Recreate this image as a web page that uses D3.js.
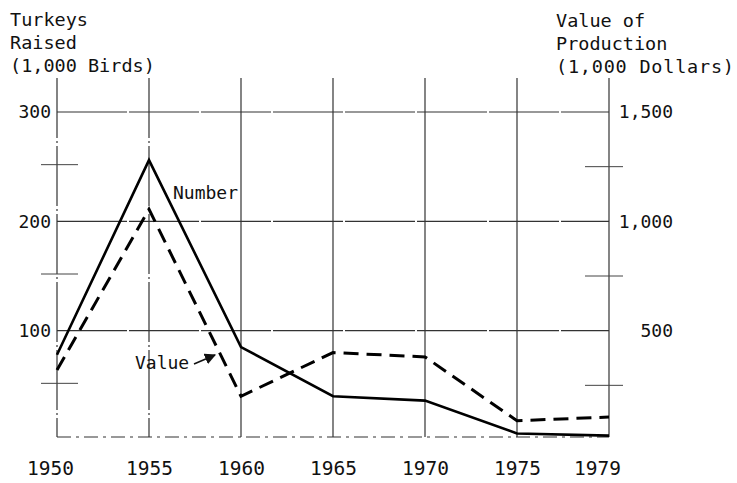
<!DOCTYPE html>
<html>
<head>
<meta charset="utf-8">
<script src="https://cdn.jsdelivr.net/npm/d3@7"></script>
<style>
  body { margin: 0; background: #fff; }
  svg text { font-family: "DejaVu Sans Mono", monospace; fill: #111; }
</style>
</head>
<body>
<svg id="chart" width="737" height="483"></svg>
<script>
// Turkeys raised (1,000 birds) and value of production (1,000 dollars)
var years = ["1950", "1955", "1960", "1965", "1970", "1975", "1979"];
var numberBirds = [78, 256, 85, 40, 36, 6, 4];
var valueDollars = [320, 1055, 200, 400, 380, 88, 105];

var leftTicks = [100, 200, 300];
var leftMinor = [50, 150, 250];
var rightTicks = [500, 1000, 1500];
var rightMinor = [250, 750, 1250];

var X_LEFT = 57, X_RIGHT = 609;
var Y_TOP = 112, Y_BOTTOM = 440;

var svg = d3.select("#chart");

var xScale = d3.scalePoint().domain(years).range([X_LEFT, X_RIGHT]);
var yScale = d3.scaleLinear().domain([0, 300]).range([Y_BOTTOM, Y_TOP]);
var yValue = d3.scaleLinear().domain([0, 1500]).range([Y_BOTTOM, Y_TOP]);

// grid: vertical lines at each year
svg.append("g").selectAll("line")
  .data(years)
  .enter().append("line")
  .attr("x1", function (d) { return xScale(d); })
  .attr("x2", function (d) { return xScale(d); })
  .attr("y1", 78)
  .attr("y2", Y_BOTTOM - 3)
  .attr("stroke", "#333")
  .attr("stroke-width", 1.2)
  .attr("stroke-dasharray", function (d, i) { return (i == 0 || i == 1) ? "60,3,2,3" : null; });

// horizontal grid lines
svg.append("g").selectAll("line")
  .data([0].concat(leftTicks))
  .enter().append("line")
  .attr("x1", X_LEFT)
  .attr("x2", X_RIGHT)
  .attr("y1", function (d) { return yScale(d) - (d == 0 ? 3 : 0); })
  .attr("y2", function (d) { return yScale(d) - (d == 0 ? 3 : 0); })
  .attr("stroke", "#333")
  .attr("stroke-width", 1.1)
  .attr("stroke-dasharray", function (d) { return d == 0 ? "14,5,3,5" : "70,2"; });

// minor ticks crossing the axes
svg.append("g").selectAll("line")
  .data(leftMinor)
  .enter().append("line")
  .attr("x1", X_LEFT - 16)
  .attr("x2", X_LEFT + 21)
  .attr("y1", function (d) { return yScale(d) - 2; })
  .attr("y2", function (d) { return yScale(d) - 2; })
  .attr("stroke", "#444")
  .attr("stroke-width", 1);

svg.append("g").selectAll("line")
  .data(rightMinor)
  .enter().append("line")
  .attr("x1", X_RIGHT - 24)
  .attr("x2", X_RIGHT + 14)
  .attr("y1", function (d) { return yValue(d); })
  .attr("y2", function (d) { return yValue(d); })
  .attr("stroke", "#444")
  .attr("stroke-width", 1);

// axes (labels only)
var leftAxis = d3.axisLeft(yScale).tickValues(leftTicks).tickSize(0).tickPadding(6);
var gLeft = svg.append("g").attr("transform", "translate(" + X_LEFT + ",0)").call(leftAxis);

var rightAxis = d3.axisRight(yValue).tickValues(rightTicks).tickSize(0).tickFormat(d3.format(","));
var gRight = svg.append("g").attr("transform", "translate(" + X_RIGHT + ",0)").call(rightAxis);
gRight.selectAll("text").attr("x", 64).attr("text-anchor", "end");

var bottomAxis = d3.axisBottom(xScale).tickSize(0).tickPadding(21);
var gBottom = svg.append("g").attr("transform", "translate(0," + Y_BOTTOM + ")").call(bottomAxis);
gBottom.selectAll("text").attr("dx", function (d) { return d == "1979" ? -12 : (d == "1950" ? -7 : 0); });

[gLeft, gRight].forEach(function (g) {
  g.select(".domain").remove();
  g.selectAll("text")
    .style("font-family", "DejaVu Sans Mono, monospace")
    .style("font-size", "18px")
    .attr("fill", "#111");
});
gBottom.select(".domain").remove();
gBottom.selectAll("text")
  .style("font-family", "DejaVu Sans Mono, monospace")
  .style("font-size", "19.5px")
  .attr("fill", "#111");

// series lines
var numberLine = d3.line()
  .x(function (d, i) { return xScale(years[i]); })
  .y(function (d) { return yScale(d); });

var valueLine = d3.line()
  .x(function (d, i) { return xScale(years[i]); })
  .y(function (d) { return yValue(d); });

svg.append("path")
  .datum(numberBirds)
  .attr("d", numberLine)
  .attr("fill", "none")
  .attr("stroke", "#000")
  .attr("stroke-width", 2.6);

svg.append("path")
  .datum(valueDollars)
  .attr("d", valueLine)
  .attr("fill", "none")
  .attr("stroke", "#000")
  .attr("stroke-width", 3)
  .attr("stroke-dasharray", "15,8");

// titles
var leftTitle = ["Turkeys", "Raised", "(1,000 Birds)"];
var rightTitle = ["Value of", "Production", "(1,000 Dollars)"];

svg.append("g").selectAll("text")
  .data(leftTitle)
  .enter().append("text")
  .attr("x", 10)
  .attr("y", function (d, i) { return 26 + i * 23; })
  .style("font-size", "18.5px")
  .text(function (d) { return d; });

svg.append("g").selectAll("text")
  .data(rightTitle)
  .enter().append("text")
  .attr("x", 556)
  .attr("y", function (d, i) { return 27 + i * 23; })
  .style("font-size", "18.5px")
  .attr("textLength", function (d, i) { return i == 2 ? 178 : null; })
  .text(function (d) { return d; });

// series annotations
svg.append("text")
  .attr("x", 173)
  .attr("y", 199)
  .style("font-size", "18px")
  .text("Number");

svg.append("text")
  .attr("x", 135)
  .attr("y", 369)
  .style("font-size", "18px")
  .text("Value");

svg.append("defs").append("marker")
  .attr("id", "arrow")
  .attr("viewBox", "0 0 10 10")
  .attr("refX", 9)
  .attr("refY", 5)
  .attr("markerWidth", 7)
  .attr("markerHeight", 7)
  .attr("orient", "auto")
  .append("path")
  .attr("d", "M0,0 L10,5 L0,10 Z")
  .attr("fill", "#111");

svg.append("line")
  .attr("x1", 194)
  .attr("y1", 364)
  .attr("x2", 215)
  .attr("y2", 355)
  .attr("stroke", "#111")
  .attr("stroke-width", 1.6)
  .attr("marker-end", "url(#arrow)");
</script>
</body>
</html>
